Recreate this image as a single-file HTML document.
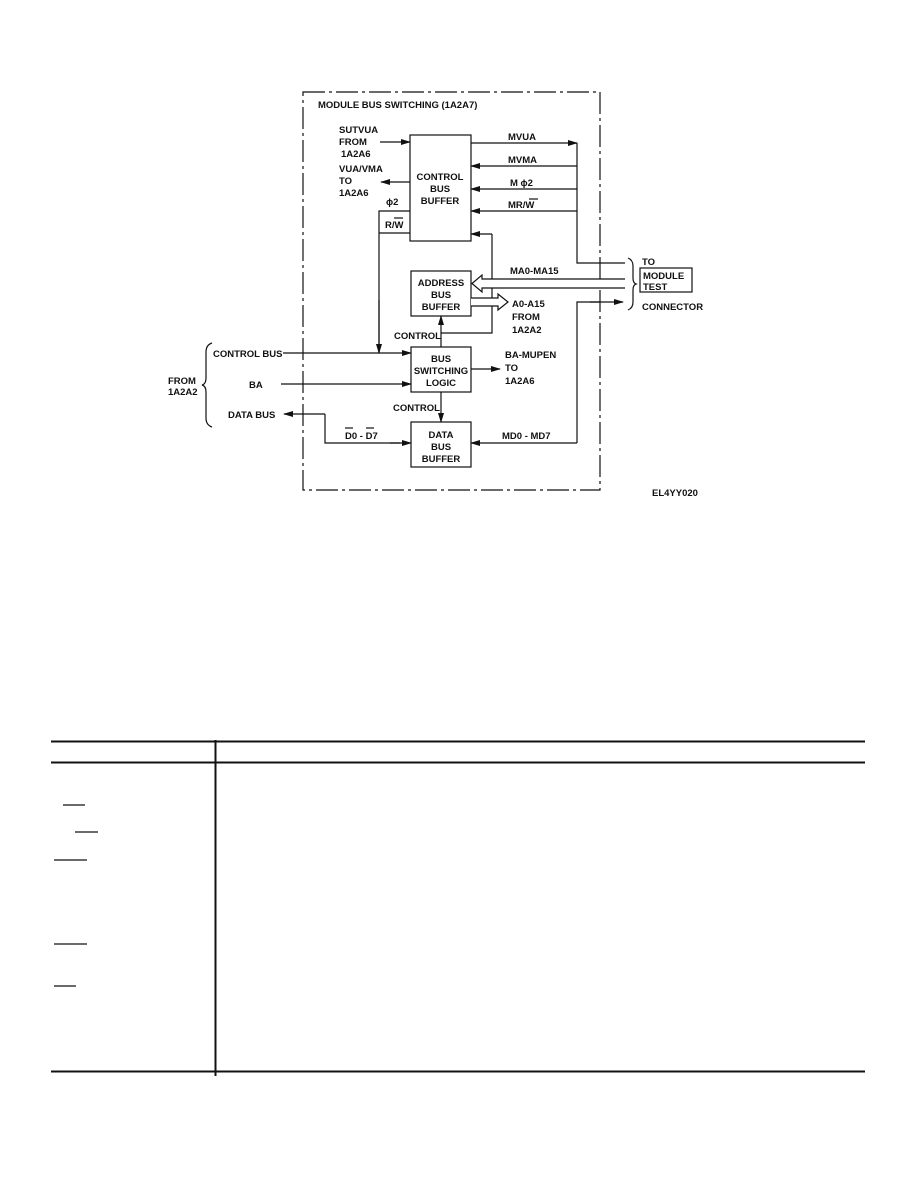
<!DOCTYPE html>
<html><head><meta charset="utf-8"><style>
html,body{margin:0;padding:0;background:#fff;}
svg{display:block;}
text{font-family:"Liberation Sans",Arial,sans-serif;font-size:9.5px;fill:#111;font-weight:bold;}
</style></head><body>
<svg width="918" height="1188" viewBox="0 0 918 1188" xmlns="http://www.w3.org/2000/svg">
<defs>
<marker id="a" markerWidth="10" markerHeight="8" refX="9" refY="4" orient="auto" markerUnits="userSpaceOnUse">
<path d="M0,1 L10,4 L0,7 Z" fill="#111"/></marker>
</defs>
<g stroke="#111" stroke-width="1.2" fill="none">
<rect x="303" y="92" width="297" height="398" stroke-dasharray="22,4,3,4"/>
<rect x="410" y="135" width="61" height="106"/>
<rect x="411" y="271" width="60" height="45"/>
<rect x="411" y="347" width="60" height="45"/>
<rect x="411" y="422" width="60" height="45"/>
<line x1="380" y1="142" x2="410" y2="142" marker-end="url(#a)"/>
<line x1="410" y1="182" x2="381" y2="182" marker-end="url(#a)"/>
<line x1="471" y1="143" x2="577" y2="143" marker-end="url(#a)"/>
<polyline points="577,143 577,263 625,263"/>
<line x1="577" y1="166" x2="471" y2="166" marker-end="url(#a)"/>
<line x1="577" y1="189" x2="471" y2="189" marker-end="url(#a)"/>
<line x1="577" y1="211" x2="471" y2="211" marker-end="url(#a)"/>
<polyline points="410,211 379,211 379,353"/>
<line x1="379" y1="233" x2="410" y2="233"/>
<line x1="379" y1="300" x2="379" y2="353" marker-end="url(#a)"/>
<polyline points="441,333 492,333 492,234"/>
<line x1="492" y1="234" x2="471" y2="234" marker-end="url(#a)"/>
<line x1="441" y1="347" x2="441" y2="316" marker-end="url(#a)"/>
<polyline points="625,279 482,279 482,275 472,283.5 482,292 482,288 625,288" fill="#fff"/>
<polyline points="471,298 498,298 498,294 508,302 498,310 498,306 471,306" fill="#fff"/>
<line x1="577" y1="443" x2="471" y2="443" marker-end="url(#a)"/>
<polyline points="577,443 577,302 600,302"/>
<line x1="590" y1="302" x2="623" y2="302" marker-end="url(#a)"/>
<line x1="283" y1="353" x2="411" y2="353" marker-end="url(#a)"/>
<line x1="281" y1="384" x2="411" y2="384" marker-end="url(#a)"/>
<line x1="325" y1="414" x2="284" y2="414" marker-end="url(#a)"/>
<polyline points="325,414 325,443 400,443"/>
<line x1="390" y1="443" x2="411" y2="443" marker-end="url(#a)"/>
<line x1="441" y1="392" x2="441" y2="422" marker-end="url(#a)"/>
<line x1="471" y1="369" x2="500" y2="369" marker-end="url(#a)"/>
<path d="M212,343 Q206,345 206,352 L206,378 Q206,384 202,385 Q206,386 206,392 L206,418 Q206,425 212,427"/>
<path d="M628,258 Q633,260 633,266 L633,278 Q633,283 636,284 Q633,285 633,290 L633,302 Q633,308 628,310"/>
<rect x="640" y="268" width="52" height="24"/>
<line x1="51" y1="741.5" x2="865" y2="741.5" stroke-width="2"/>
<line x1="51" y1="762.5" x2="865" y2="762.5" stroke-width="2"/>
<line x1="51" y1="1071.5" x2="865" y2="1071.5" stroke-width="2"/>
<line x1="215.5" y1="740" x2="215.5" y2="1076" stroke-width="2"/>
<line x1="63" y1="805" x2="85" y2="805"/>
<line x1="75" y1="832" x2="98" y2="832"/>
<line x1="54" y1="860" x2="87" y2="860"/>
<line x1="54" y1="944" x2="87" y2="944"/>
<line x1="54" y1="986" x2="76" y2="986"/>
<line x1="394" y1="218" x2="403" y2="218"/>
<line x1="529" y1="199" x2="538" y2="199"/>
<line x1="345" y1="428" x2="353" y2="428"/>
<line x1="366" y1="428" x2="374" y2="428"/>
</g>
<text x="318" y="108">MODULE BUS SWITCHING (1A2A7)</text>
<text x="339" y="133">SUTVUA</text>
<text x="339" y="145">FROM</text>
<text x="341" y="157">1A2A6</text>
<text x="339" y="172">VUA/VMA</text>
<text x="339" y="184">TO</text>
<text x="339" y="196">1A2A6</text>
<text x="440" y="180" text-anchor="middle">CONTROL</text>
<text x="440" y="192" text-anchor="middle">BUS</text>
<text x="440" y="204" text-anchor="middle">BUFFER</text>
<text x="386" y="205">ϕ2</text>
<text x="385" y="228">R/W</text>
<text x="508" y="140">MVUA</text>
<text x="508" y="163">MVMA</text>
<text x="510" y="186">M ϕ2</text>
<text x="508" y="208">MR/W</text>
<text x="510" y="274">MA0-MA15</text>
<text x="441" y="286" text-anchor="middle">ADDRESS</text>
<text x="441" y="298" text-anchor="middle">BUS</text>
<text x="441" y="310" text-anchor="middle">BUFFER</text>
<text x="512" y="307">A0-A15</text>
<text x="512" y="320">FROM</text>
<text x="512" y="333">1A2A2</text>
<text x="394" y="339">CONTROL</text>
<text x="441" y="362" text-anchor="middle">BUS</text>
<text x="441" y="374" text-anchor="middle">SWITCHING</text>
<text x="441" y="386" text-anchor="middle">LOGIC</text>
<text x="505" y="358">BA-MUPEN</text>
<text x="505" y="371">TO</text>
<text x="505" y="384">1A2A6</text>
<text x="393" y="411">CONTROL</text>
<text x="441" y="438" text-anchor="middle">DATA</text>
<text x="441" y="450" text-anchor="middle">BUS</text>
<text x="441" y="462" text-anchor="middle">BUFFER</text>
<text x="345" y="439">D0 - D7</text>
<text x="502" y="439">MD0 - MD7</text>
<text x="213" y="357">CONTROL BUS</text>
<text x="249" y="388">BA</text>
<text x="228" y="418">DATA BUS</text>
<text x="168" y="384">FROM</text>
<text x="168" y="395">1A2A2</text>
<text x="642" y="265">TO</text>
<text x="643" y="279">MODULE</text>
<text x="643" y="290">TEST</text>
<text x="642" y="310">CONNECTOR</text>
<text x="652" y="496">EL4YY020</text>
</svg>
</body></html>
